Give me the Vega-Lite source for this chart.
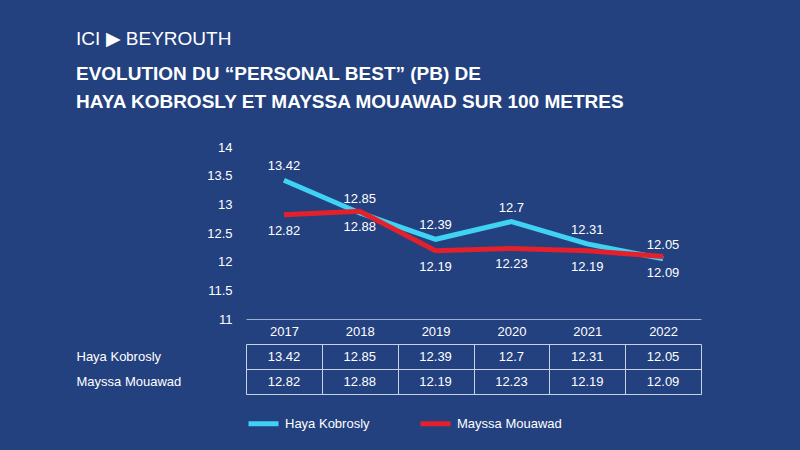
{
"$schema":"https://vega.github.io/schema/vega-lite/v6.json",
"background":"#23417f",
"padding":{"left":76,"top":30,"right":110,"bottom":18},
"title":{"text":"ICI ▶ BEYROUTH","anchor":"start","color":"white","fontSize":19,"font":"Liberation Sans","fontWeight":"normal","subtitle":["EVOLUTION DU “PERSONAL BEST” (PB) DE","HAYA KOBROSLY ET MAYSSA MOUAWAD SUR 100 METRES"],"subtitleColor":"white","subtitleFontSize":19,"subtitleFontWeight":"bold","subtitleFont":"Liberation Sans","subtitlePadding":16,"subtitleLineHeight":28,"offset":29},
"config":{"font":"Liberation Sans","view":{"stroke":null},"axis":{"labelColor":"white","labelFontSize":13,"domainColor":"#9fb0d0","tickColor":"#9fb0d0"},"legend":{"labelColor":"white","labelFontSize":13}},
"datasets":{"d":[
{"year":"2017","s":"Haya Kobrosly","v":13.42},{"year":"2018","s":"Haya Kobrosly","v":12.85},{"year":"2019","s":"Haya Kobrosly","v":12.39},{"year":"2020","s":"Haya Kobrosly","v":12.7},{"year":"2021","s":"Haya Kobrosly","v":12.31},{"year":"2022","s":"Haya Kobrosly","v":12.05},
{"year":"2017","s":"Mayssa Mouawad","v":12.82},{"year":"2018","s":"Mayssa Mouawad","v":12.88},{"year":"2019","s":"Mayssa Mouawad","v":12.19},{"year":"2020","s":"Mayssa Mouawad","v":12.23},{"year":"2021","s":"Mayssa Mouawad","v":12.19},{"year":"2022","s":"Mayssa Mouawad","v":12.09}]},
"vconcat":[
{"width":455,"height":172,
"data":{"name":"d"},
"encoding":{"x":{"field":"year","type":"ordinal","axis":{"title":null,"labelAngle":0,"ticks":false,"labelPadding":6},"scale":{"paddingInner":0,"paddingOuter":0}},
"y":{"field":"v","type":"quantitative","scale":{"domain":[11,14],"nice":false},"axis":{"title":null,"values":[11,11.5,12,12.5,13,13.5,14],"format":"~g","labelOverlap":false,"grid":false,"domain":false,"ticks":false,"labelPadding":14}}},
"layer":[
{"mark":{"type":"line","strokeWidth":5},
"encoding":{
"color":{"field":"s","type":"nominal","scale":{"domain":["Haya Kobrosly","Mayssa Mouawad"],"range":["#3fd2f2","#e3202b"]},"legend":{"orient":"bottom","title":null,"symbolType":"stroke","symbolStrokeWidth":5,"symbolSize":900,"columnPadding":40,"offset":12}}}},
{"transform":[{"filter":"datum.s=='Haya Kobrosly'"}],"mark":{"type":"text","color":"white","fontSize":13,"dy":-14},
"encoding":{"text":{"field":"v"}}},
{"transform":[{"filter":"datum.s=='Mayssa Mouawad'"}],"mark":{"type":"text","color":"white","fontSize":13,"dy":16},
"encoding":{"text":{"field":"v"}}}
]},
{"width":455,"height":50,
"data":{"name":"d"},
"mark":{"type":"text","color":"white","fontSize":13},
"encoding":{"x":{"field":"year","type":"ordinal","scale":{"paddingInner":0,"paddingOuter":0},"axis":{"title":null,"labels":false,"ticks":false,"domain":false,"grid":true,"gridColor":"#c8d2e6","tickBand":"extent"}},
"y":{"field":"s","type":"nominal","scale":{"paddingInner":0,"paddingOuter":0},"axis":{"title":null,"ticks":false,"domain":false,"grid":true,"gridColor":"#c8d2e6","tickBand":"extent","labelAlign":"left","labelPadding":170}},
"text":{"field":"v"}}}
],
"spacing":0
}
